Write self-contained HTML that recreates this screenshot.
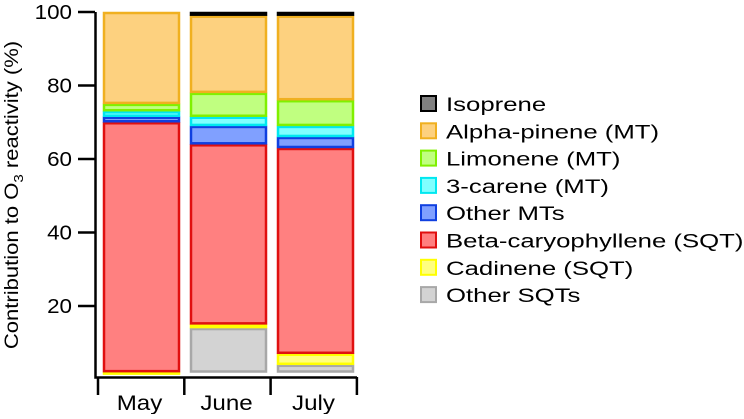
<!DOCTYPE html>
<html><head><meta charset="utf-8"><style>
body{margin:0;background:#fff}
svg text{font-family:"Liberation Sans",Arial,sans-serif;fill:#000}
</style></head><body>
<svg id="c" width="744" height="414"></svg>
<script>
const months=["May","June","July"];
const seriesNames=["Other SQTs","Cadinene (SQT)","Beta-caryophyllene (SQT)","Other MTs","3-carene (MT)","Limonene (MT)","Alpha-pinene (MT)","Isoprene"];
const otherSQT=[0,14,4];
const cadinene=[2,1,3];
const betaCaryophyllene=[68,49,56];
const otherMTs=[1.5,5,3];
const carene3=[1.5,2.5,3];
const limonene=[2,6.5,7];
const alphaPinene=[25,21,23];
const isoprene=[0,1,1];
const yTicks=[20,40,60,80,100];
const fills=["#d3d3d3","#ffff80","#ff8080","#80a0ff","#80ffff","#c0ff80","#fdd17f","#808080"];
const strokes=["#a8a8a8","#ffff00","#e01010","#1040e0","#00e8f0","#80f000","#f0b020","#000"];
const legendOrder=[7,6,5,4,3,2,1,0];
const NS="http://www.w3.org/2000/svg";
const svg=document.getElementById('c');
function y(v){return 379.5-3.675*v;}
function x(i){return 103+i*87;}
const bw=77, vmin=1.9;
function mk(t,a){const e=document.createElementNS(NS,t);for(const k in a)e.setAttribute(k,a[k]);svg.appendChild(e);return e;}
function stretch(t,sx,ax){t.setAttribute('transform','translate('+ax+',0) scale('+sx+',1) translate('+(-ax)+',0)');}
const data=[otherSQT,cadinene,betaCaryophyllene,otherMTs,carene3,limonene,alphaPinene,isoprene];
months.forEach((m,i)=>{
  let cum=0;
  data.forEach((s,k)=>{
    const lo=Math.max(cum,vmin),hi=cum+s[i];cum=hi;
    if(hi<=lo)return;
    const r=mk('rect',{x:x(i)+1,y:y(hi)+1,width:bw-2,height:Math.max(y(lo)-y(hi)-2,0.5),fill:fills[k],stroke:strokes[k],'stroke-width':2.5});
    
    
  });
  const cx=x(i)+bw/2-2;
  const t=mk('text',{x:cx,y:410,'font-size':21,'text-anchor':'middle'});t.textContent=m;
  stretch(t,1.15,cx);
  
  
});
let ax=mk('path',{d:'M95.5 12V377.5H357',stroke:'#000','stroke-width':2.5,fill:'none'});


[0,1,2,3].forEach(j=>{mk('line',{x1:98+j*86.3,x2:98+j*86.3,y1:377,y2:395,stroke:'#000','stroke-width':2.5});});
yTicks.forEach(v=>{
  mk('line',{x1:78,x2:95,y1:y(v),y2:y(v),stroke:'#000','stroke-width':2.5});
  const t=mk('text',{x:72,y:y(v)+7,'font-size':20,'text-anchor':'end'});t.textContent=v;
  stretch(t,1.12,72);
  
  
});
const yt=mk('text',{transform:'translate(18,195) rotate(-90) scale(1.16,1)','font-size':19,'text-anchor':'middle'});
yt.innerHTML='Contribution to O<tspan font-size="13" dy="5">3</tspan><tspan dy="-5"> reactivity (%)</tspan>';


legendOrder.forEach((k,j)=>{
  const yy=104+j*27.3;
  const r=mk('rect',{x:421,y:yy-8,width:15,height:15,fill:fills[k],stroke:strokes[k],'stroke-width':2});
  
  
  const t=mk('text',{x:446,y:yy+7,'font-size':19.5});t.textContent=seriesNames[k];
  stretch(t,1.32,446);
  
  
});
</script>
</body></html>
